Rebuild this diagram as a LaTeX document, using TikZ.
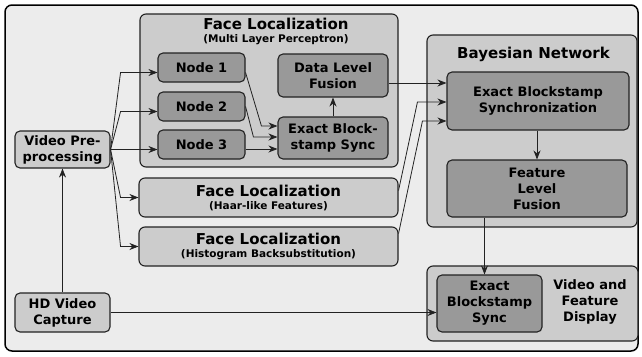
\documentclass[tikz,border=0pt]{standalone}
\usepackage{fontspec}
\setmainfont{DejaVu Sans}
\usetikzlibrary{arrows.meta,calc,positioning}
\definecolor{FrameFill}{HTML}{ECECEC}
\definecolor{GroupFill}{HTML}{CCCCCC}
\definecolor{UnitFill}{HTML}{999999}
\definecolor{EdgeInk}{HTML}{222222}
\newcommand\titlefont{\fontsize{15}{18}\selectfont\bfseries}
\newcommand\subfont{\fontsize{10.5}{13}\selectfont\bfseries}
\newcommand\unitfont{\fontsize{13}{16}\selectfont\bfseries}
\tikzset{
  group/.style={draw=EdgeInk, line width=1.1pt, rounded corners=6pt, fill=GroupFill, inner sep=0pt},
  unit/.style={draw=EdgeInk, line width=1.1pt, rounded corners=5pt, fill=UnitFill,
    align=center, inner sep=0pt, font=\unitfont},
  link/.style={draw=EdgeInk, line width=0.8pt, -{Stealth[length=9pt,width=7pt]}},
}

\begin{document}
\begin{tikzpicture}[x=1pt,y=-1pt]
  \useasboundingbox (0,0) rectangle (642,356);
  \node[draw=black, line width=1.5pt, rounded corners=7pt, fill=FrameFill,
        minimum width=633pt, minimum height=346pt] (frame) at (321.5,178) {};

  % multi layer perceptron
  \node[group, minimum width=258pt, minimum height=153pt] (mlp) at (269,90.5) {};
  \node[font=\titlefont, anchor=base] (mlptitle) at (276,29) {Face Localization};
  \node[font=\subfont, anchor=base] (mlpsub) at (276,42.5) {(Multi Layer Perceptron)};
  \node[unit, minimum width=87pt, minimum height=29pt] (n1) at (201.5,67.5) {Node 1};
  \node[unit, minimum width=87pt, minimum height=29pt] (n2) at (201.5,106.5) {Node 2};
  \node[unit, minimum width=87pt, minimum height=29pt] (n3) at (201.5,144.5) {Node 3};
  \node[unit, minimum width=110pt, minimum height=43pt] (dlf) at (333,75.5) {Data Level\\Fusion};
  \node[unit, minimum width=110pt, minimum height=42pt] (ebs1) at (333,138) {Exact Block-\\stamp Sync};

  % other localizers
  \node[group, minimum width=259pt, minimum height=39pt, align=center, font=\subfont] (haar) at (268.5,197.5)
    {{\titlefont Face Localization}\\(Haar-like Features)};
  \node[group, minimum width=259pt, minimum height=39pt, align=center, font=\subfont] (hist) at (268.5,246.5)
    {{\titlefont Face Localization}\\(Histogram Backsubstitution)};

  % input side
  \node[unit, fill=GroupFill, minimum width=95pt, minimum height=37pt] (vpp) at (62.5,149.5) {Video Pre-\\processing};
  \node[unit, fill=GroupFill, minimum width=95pt, minimum height=39pt] (hd) at (62.5,312.5) {HD Video\\Capture};

  % bayesian network
  \node[group, minimum width=210pt, minimum height=192pt] (bn) at (532,131) {};
  \node[font=\titlefont, anchor=base] (bntitle) at (533.5,58) {Bayesian Network};
  \node[unit, minimum width=182pt, minimum height=58pt] (ebs2) at (538,101) {Exact Blockstamp\\Synchronization};
  \node[unit, minimum width=180pt, minimum height=57pt] (flf) at (537,188.5) {Feature\\Level\\Fusion};

  % display
  \node[group, minimum width=211pt, minimum height=75pt] (vfd) at (532.5,303.5) {};
  \node[unit, minimum width=105pt, minimum height=57pt] (ebs3) at (489.5,303.5) {Exact\\Blockstamp\\Sync};
  \node[font=\unitfont, align=center] (vfdtext) at (590,302) {Video and\\Feature\\Display};

  % connectors
  \coordinate (fan) at ([xshift=10pt]vpp.east);
  \coordinate (n1in) at ([yshift=-5pt]n1.west);
  \coordinate (n2in) at ([yshift=-5pt]n2.west);
  \coordinate (ebs1in1) at ([yshift=12pt]ebs1.west);
  \coordinate (ebs1in2) at ([yshift=1pt]ebs1.west);
  \coordinate (ebs1in3) at ([yshift=-11pt]ebs1.west);
  \coordinate (ebs2in1) at ([yshift=18pt]ebs2.west);
  \coordinate (ebs2in2) at ([yshift=-1pt]ebs2.west);
  \coordinate (ebs2in3) at ([yshift=-20pt]ebs2.west);
  \coordinate (ebs3top) at ([xshift=-5pt]ebs3.north);

  \draw[link] (hd) -- (vpp);
  \draw[link] (vpp.east) -- (fan |- n1in) -- (n1in);
  \draw[link] (vpp.east) -- (fan |- n2in) -- (n2in);
  \draw[link] (vpp.east) -- (vpp.east -| n3.west);
  \draw[link] (vpp.east) -- (fan |- haar.west) -- (haar.west);
  \draw[link] (vpp.east) -- (fan |- hist.west) -- (hist.west);

  \draw[link] ([yshift=-5pt]n1.east) -- ([xshift=-16pt]ebs1in1) -- (ebs1in1);
  \draw[link] (n2.east) -- ([xshift=-24pt]ebs1in2) -- (ebs1in2);
  \draw[link] (n3.east |- ebs1in3) -- (ebs1in3);
  \draw[link] (ebs1) -- (dlf);

  \draw[link] (dlf.east |- ebs2in1) -- (ebs2in1);
  \draw[link] ([yshift=7pt]haar.east) -- ([xshift=-29pt]ebs2in2) -- (ebs2in2);
  \draw[link] ([yshift=13pt]hist.east) -- ([xshift=-24pt]ebs2in3) -- (ebs2in3);
  \draw[link] (ebs2.south -| flf.north) -- (flf.north);
  \draw[link] (flf.south -| ebs3top) -- (ebs3top);
  \draw[link] (hd.east) -- (hd.east -| ebs3.west);
\end{tikzpicture}
\end{document}
